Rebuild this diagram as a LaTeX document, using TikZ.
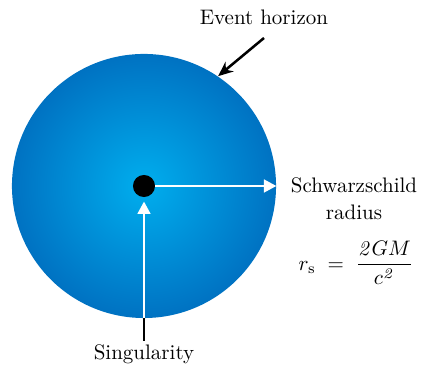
\documentclass[tikz,border=0pt]{standalone}
\usepackage{amsmath,amssymb}
\usepackage{tikz}
\usetikzlibrary{arrows.meta,positioning,calc}
\usepackage{xcolor}
\definecolor{holeinner}{RGB}{0,174,238}
\definecolor{holeouter}{RGB}{0,114,194}

\begin{document}
\begin{tikzpicture}[
  x=0.476pt, y=-0.476pt,
  label/.style={align=center, font=\normalsize, inner sep=1pt},
  warr/.style={-{Triangle[length=2.1mm,width=2.1mm]}, white, line width=1.4pt},
  barr/.style={-{Stealth[length=2.5mm,width=2.1mm]}, black, line width=1.2pt},
]
  \useasboundingbox (0,0) rectangle (428,366);

  % Event horizon disk
  \node[circle, minimum size=125.7pt, inner sep=0pt, shading=radial,
        inner color=holeinner, outer color=holeouter] (hole) at (144,186) {};

  % Singularity
  \node[circle, fill=black, minimum size=10.5pt, inner sep=0pt] (sing) at (144,186) {};

  % Labels
  \node[label] (eh) at (264,17) {Event horizon};
  \coordinate (ehtail) at (264,38);
  \node[label] (rad) at (354,199) {Schwarzschild\\[1pt]radius};
  \node[label] (form) at (356,263) {$r_{\mathrm{s}} \;=\; \dfrac{\mathit{2}GM}{c^{\mathit{2}}}$};
  \node[label] (sl) at (144,354) {Singularity};
  \coordinate (sltop) at (144,341);

  % Arrows
  \draw[warr] (sing.east) -- (hole.east);
  \draw[black, line width=1.4pt] (sltop) -- (hole.south);
  \draw[warr] (hole.south) -- ($(sing.south)+(0,4)$);
  \draw[barr] (ehtail) -- (hole.56);
\end{tikzpicture}
\end{document}
